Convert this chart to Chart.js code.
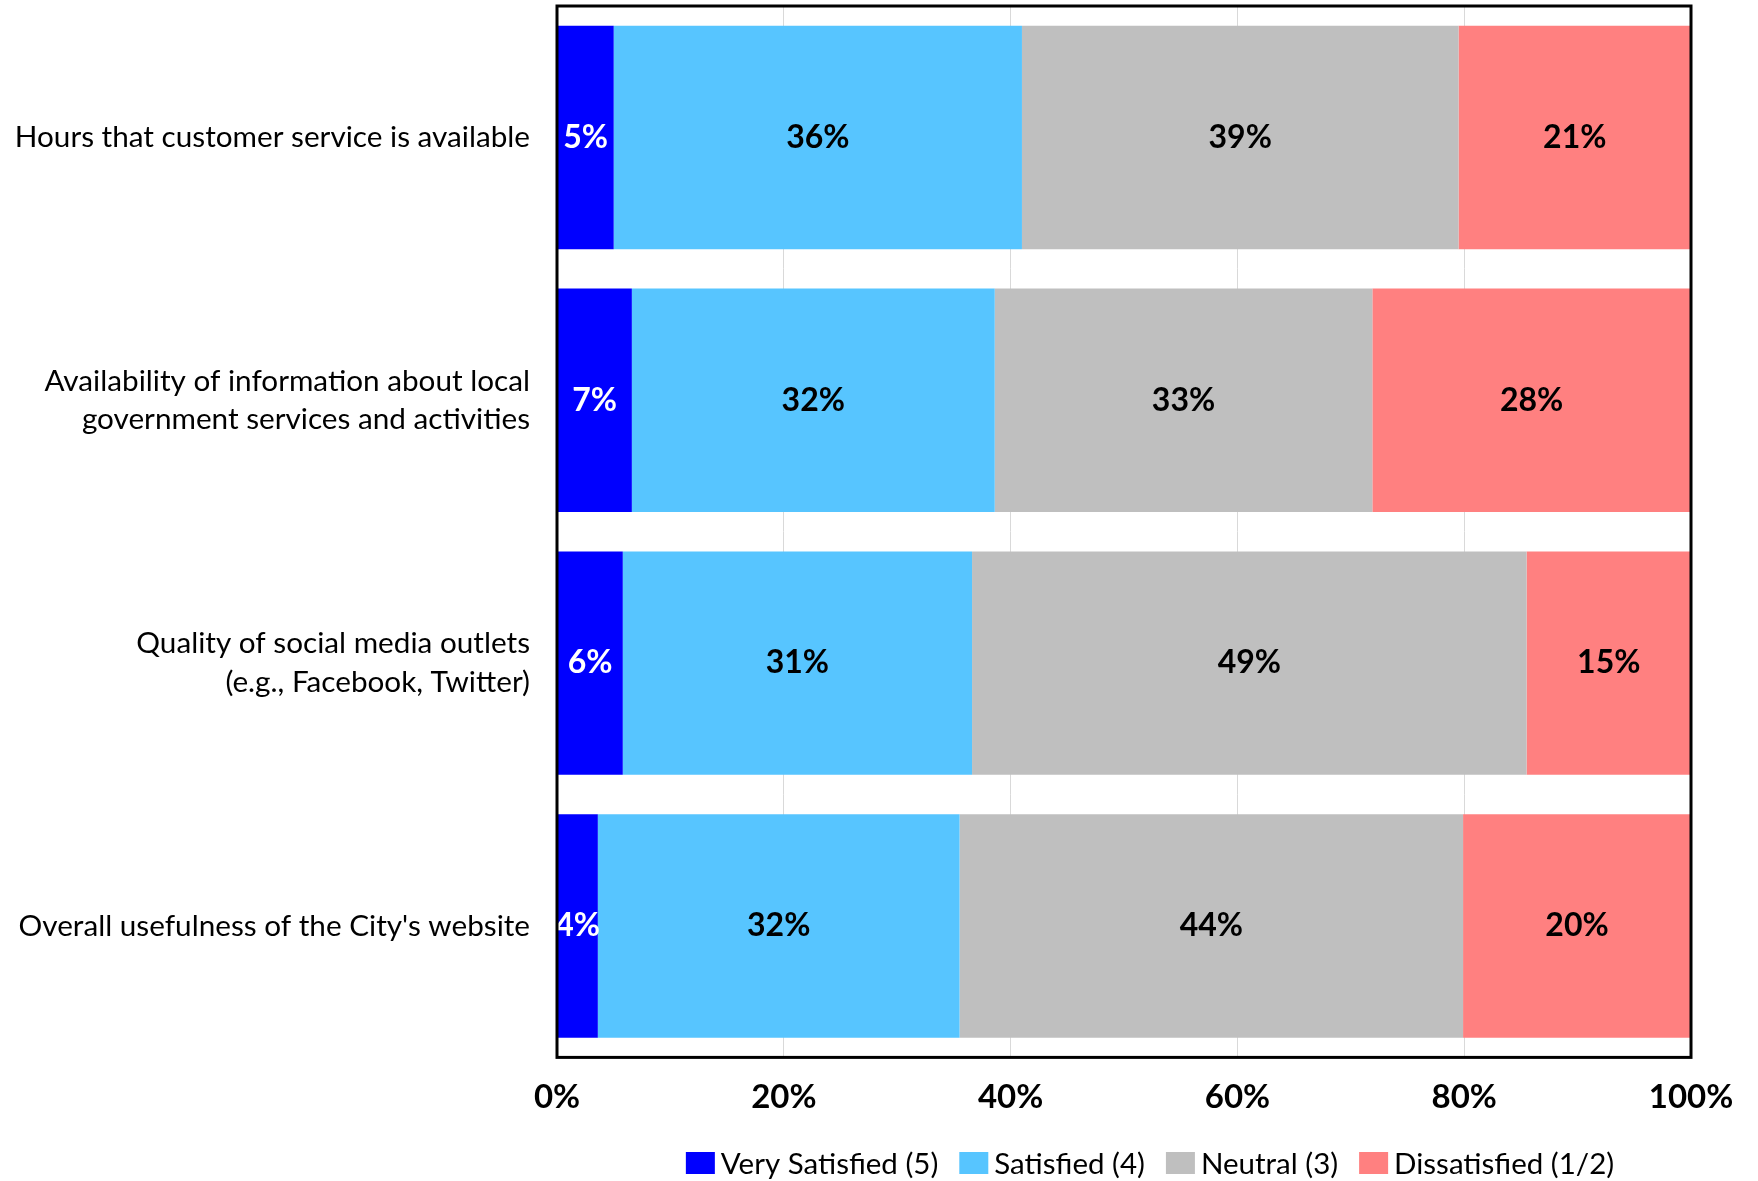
<!DOCTYPE html>
<html>
<head>
<meta charset="utf-8">
<script src="https://cdn.jsdelivr.net/npm/chart.js@4.4.1/dist/chart.umd.min.js"></script>
<style>
html,body{margin:0;padding:0;background:#fff;}
#wrap{width:1758px;height:1181px;position:relative;}
</style>
</head>
<body>
<div id="wrap"><canvas id="c" width="1758" height="1181"></canvas></div>
<script>
const categories = [
  "Hours that customer service is available",
  ["Availability of information about local", "government services and activities"],
  ["Quality of social media outlets", "(e.g., Facebook, Twitter)"],
  "Overall usefulness of the City's website"
];
const seriesNames = ["Very Satisfied (5)", "Satisfied (4)", "Neutral (3)", "Dissatisfied (1/2)"];
const verySatisfied = [5.0, 6.6, 5.8, 3.6];
const satisfied = [36.0, 32.0, 30.8, 31.9];
const neutral = [38.5, 33.3, 48.9, 44.4];
const dissatisfied = [20.5, 28.1, 14.5, 20.1];
const xTicks = [0, 20, 40, 60, 80, 100];

const colors = ["#0000FF", "#57C5FF", "#BFBFBF", "#FF8080"];
const labelColors = ["#FFFFFF", "#000000", "#000000", "#000000"];
const FONT = "Lato, 'Open Sans', sans-serif";

const seriesValues = [verySatisfied, satisfied, neutral, dissatisfied];

const barLabels = {
  id: 'barLabels',
  afterDatasetsDraw(chart) {
    const ctx = chart.ctx;
    ctx.save();
    ctx.font = "bold 32px " + FONT;
    ctx.textAlign = 'center';
    ctx.textBaseline = 'middle';
    chart.data.datasets.forEach((ds, di) => {
      const meta = chart.getDatasetMeta(di);
      meta.data.forEach((bar, i) => {
        const v = ds.data[i];
        const cx = (bar.x + bar.base) / 2;
        ctx.fillStyle = labelColors[di];
        ctx.fillText(Math.round(v) + '%', cx, bar.y);
      });
    });
    ctx.restore();
  }
};

const frame = {
  id: 'frame',
  afterDraw(chart) {
    const a = chart.chartArea;
    const ctx = chart.ctx;
    ctx.save();
    ctx.strokeStyle = '#000';
    ctx.lineWidth = 3;
    ctx.strokeRect(a.left, a.top, a.right - a.left, a.bottom - a.top);
    ctx.restore();
  }
};

const customLegend = {
  id: 'customLegend',
  afterDraw(chart) {
    const a = chart.chartArea;
    const ctx = chart.ctx;
    ctx.save();
    ctx.font = "29.5px " + FONT;
    ctx.textBaseline = 'middle';
    ctx.textAlign = 'left';
    const boxW = 29, boxH = 22, gapBox = 6, gapItem = 21;
    const widths = chart.data.datasets.map(ds => ctx.measureText(ds.label).width);
    let total = 0;
    widths.forEach((w, i) => { total += boxW + gapBox + w + (i < widths.length - 1 ? gapItem : 0); });
    const cx = (a.left + a.right) / 2 + 26;
    let x = cx - total / 2;
    const y = 1164;
    chart.data.datasets.forEach((ds, i) => {
      ctx.fillStyle = ds.backgroundColor;
      ctx.fillRect(x, y - boxH / 2 - 1, boxW, boxH);
      ctx.fillStyle = '#000';
      ctx.fillText(ds.label, x + boxW + gapBox, y);
      x += boxW + gapBox + widths[i] + gapItem;
    });
    ctx.restore();
  }
};

new Chart(document.getElementById('c'), {
  type: 'bar',
  data: {
    labels: categories,
    datasets: seriesNames.map((n, i) => ({
      label: n,
      data: seriesValues[i],
      backgroundColor: colors[i],
      borderWidth: 0,
      barPercentage: 0.85,
      categoryPercentage: 1.0
    }))
  },
  options: {
    indexAxis: 'y',
    responsive: false,
    animation: false,
    devicePixelRatio: 1,
    layout: { padding: { top: 6, right: 67, left: 0, bottom: 44 } },
    scales: {
      x: {
        stacked: true,
        min: 0,
        max: 100,
        afterBuildTicks(scale) { scale.ticks = xTicks.map(v => ({ value: v })); },
        grid: { color: '#D9D9D9', lineWidth: 1, drawTicks: false },
        border: { display: false },
        ticks: {
          padding: 20,
          color: '#000',
          font: { family: FONT, size: 33, weight: 'bold' },
          callback: v => v + '%',
          maxRotation: 0
        }
      },
      y: {
        stacked: true,
        grid: { display: false, drawTicks: false },
        border: { display: false },
        afterFit(scale) { scale.width = 557; scale.paddingTop = 0; scale.paddingBottom = 0; },
        ticks: {
          padding: 27,
          color: '#000',
          font: { family: FONT, size: 29.7, lineHeight: 1.3 }
        }
      }
    },
    plugins: {
      legend: { display: false },
      tooltip: { enabled: false }
    }
  },
  plugins: [barLabels, frame, customLegend]
});
</script>
</body>
</html>
